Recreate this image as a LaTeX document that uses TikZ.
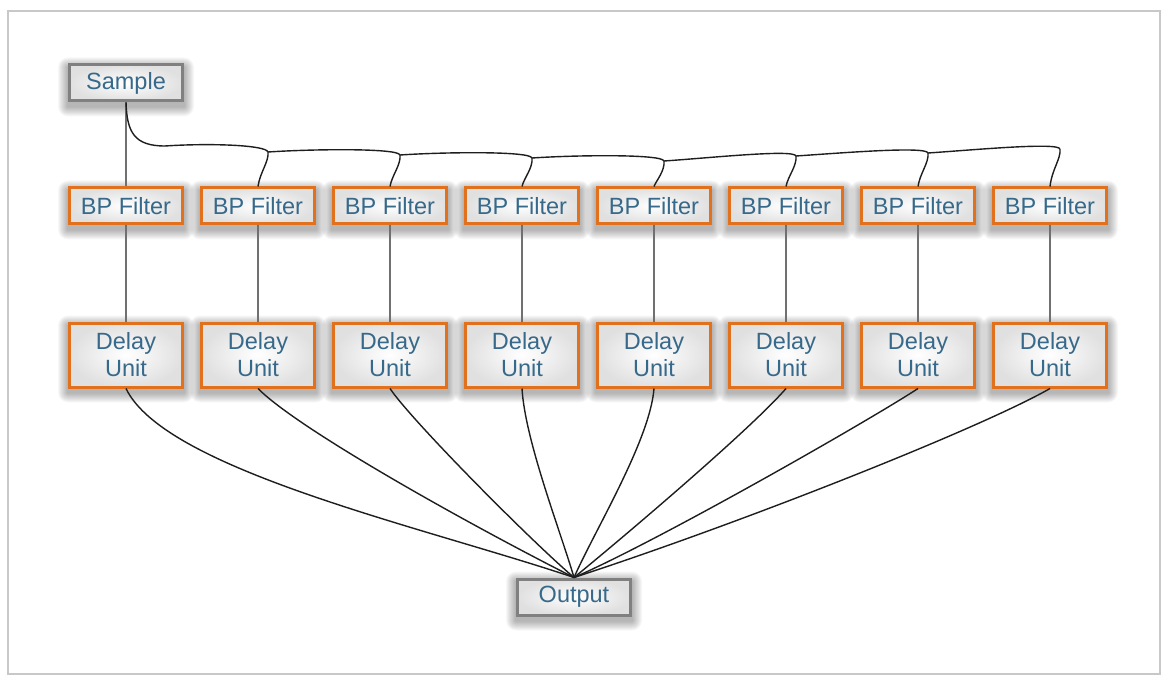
\documentclass[tikz,border=0pt]{standalone}
\usepackage{fontspec}
\setmainfont{Liberation Sans}
\usetikzlibrary{calc,backgrounds}
\definecolor{boxorange}{HTML}{E2711D}
\definecolor{boxgrey}{HTML}{808080}
\definecolor{labelblue}{HTML}{37698A}
\definecolor{wirecol}{HTML}{1E1E1E}
\definecolor{stemcol}{HTML}{707070}
\definecolor{framecol}{HTML}{C8C8C8}

\begin{document}
\begin{tikzpicture}[x=1pt,y=-1pt,
  box/.style={rectangle, line width=3pt, minimum width=113pt, minimum height=36pt,
    inner sep=0pt, align=center, text=labelblue,
    font=\fontsize{23.5}{27}\selectfont,
    inner color=white, outer color=black!12},
  greybox/.style={box, draw=boxgrey},
  filterbox/.style={box, draw=boxorange},
  delaybox/.style={box, draw=boxorange, minimum height=64pt},
  wire/.style={draw=wirecol, line width=1.4pt},
  stem/.style={draw=stemcol, line width=2pt},
  shadowring/.style={fill=black, fill opacity=0.03}
]
\useasboundingbox (0,0) rectangle (1161,676);

% source and sink
\node[greybox] (sample) at (126,83) {Sample};
\node[greybox] (out) at (574,597) {Output};

% filter bank and delay units
\foreach \i in {1,...,8} {
  \pgfmathsetmacro{\x}{126+132*(\i-1)}
  \node[filterbox] (f\i) at (\x,206) {BP Filter};
  \node[delaybox] (d\i) at (\x,355) {Delay\\Unit};
  \draw[stem] (f\i) -- (d\i);
}

% sample feeds the first filter directly
\draw[stem] (sample) -- (f1);

% shared feed line to the other filters
\coordinate (j1) at (165,146);
\draw[wire] (sample.south) .. controls (127,132) and (134,146) .. (j1);
\foreach \i/\p/\yt in {2/1/146, 3/2/149, 4/3/152, 5/4/155, 6/5/150, 7/6/147, 8/7/143} {
  \pgfmathsetmacro{\x}{126+132*(\i-1)}
  \coordinate (j\i) at (\x+10,\yt+6);
  \draw[wire] (j\p) .. controls ($(j\p)+(45,-3)$) and (\x+8,\yt-1) .. (j\i);
  \draw[wire] (j\i) .. controls (\x+11,\yt+16) and (\x+2,\yt+26) .. (f\i.north);
}

% delay outputs summed at the output
\foreach \i/\ax/\ay/\bx/\by in {1/165/470/424/527, 2/299/430/474/527, 3/411/420/530/540,
    4/525/440/560/530, 5/650/440/595/530, 6/750/430/620/540, 7/870/420/660/540, 8/981/428/744/522}
  \draw[wire] (d\i.south) .. controls (\ax,\ay) and (\bx,\by) .. (out.north);

% page, frame and soft drop shadows under every box
\begin{scope}[on background layer]
  \fill[white] (0,0) rectangle (1161,676);
  \draw[framecol, line width=1.5pt] (8,11) rectangle (1160,674);
  \foreach \n in {sample,out,f1,f2,f3,f4,f5,f6,f7,f8,d1,d2,d3,d4,d5,d6,d7,d8}
    \foreach \k in {1,...,10}
      \fill[shadowring, rounded corners=\k pt]
        ($(\n.south west)+(-\k,\k+4)$) rectangle ($(\n.north east)+(\k,-\k+4)$);
\end{scope}
\end{tikzpicture}
\end{document}
